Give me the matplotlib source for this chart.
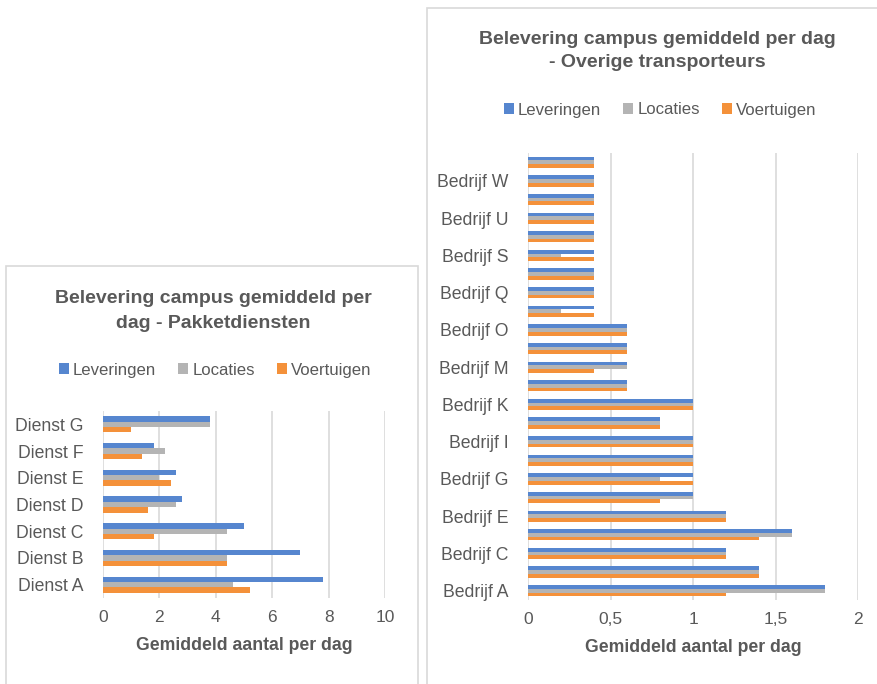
import numpy as np
import matplotlib.pyplot as plt
from matplotlib.patches import Rectangle

plt.rcParams['font.family'] = ['Liberation Sans', 'DejaVu Sans']

# left chart: Pakketdiensten
diensten = ['Dienst A', 'Dienst B', 'Dienst C', 'Dienst D', 'Dienst E', 'Dienst F', 'Dienst G']
d_leveringen = [7.8, 7.0, 5.0, 2.8, 2.6, 1.8, 3.8]
d_locaties = [4.6, 4.4, 4.4, 2.6, 2.0, 2.2, 3.8]
d_voertuigen = [5.2, 4.4, 1.8, 1.6, 2.4, 1.4, 1.0]

# right chart: Overige transporteurs (A..X)
bedrijven = ['Bedrijf ' + c for c in 'ABCDEFGHIJKLMNOPQRSTUVWX']
b_leveringen = [1.8, 1.4, 1.2, 1.6, 1.2, 1.0, 1.0, 1.0, 1.0, 0.8, 1.0, 0.6,
                0.6, 0.6, 0.6, 0.4, 0.4, 0.4, 0.4, 0.4, 0.4, 0.4, 0.4, 0.4]
b_locaties = [1.8, 1.4, 1.2, 1.6, 1.2, 1.0, 0.8, 1.0, 1.0, 0.8, 1.0, 0.6,
              0.6, 0.6, 0.6, 0.2, 0.4, 0.4, 0.2, 0.4, 0.4, 0.4, 0.4, 0.4]
b_voertuigen = [1.2, 1.4, 1.2, 1.4, 1.2, 0.8, 1.0, 1.0, 1.0, 0.8, 1.0, 0.6,
                0.4, 0.6, 0.6, 0.4, 0.4, 0.4, 0.4, 0.4, 0.4, 0.4, 0.4, 0.4]

series = ['Leveringen', 'Locaties', 'Voertuigen']
colors = ['#5686CF', '#B4B4B4', '#F4913A']
txt = '#595959'
grid = '#D9D9D9'

W, H = 877, 684
fig = plt.figure(figsize=(W / 100, H / 100), dpi=100)


def px(x0, y0, x1, y1):
    # pixel box (top-left origin) -> figure fraction rect
    return [x0 / W, 1 - y1 / H, (x1 - x0) / W, (y1 - y0) / H]


# panel borders
for (x0, y0, x1, y1) in [(6, 266, 418, 700), (427, 8, 890, 700)]:
    fig.patches.append(Rectangle((x0 / W, 1 - y1 / H), (x1 - x0) / W, (y1 - y0) / H,
                                 transform=fig.transFigure, fill=False,
                                 edgecolor=grid, linewidth=1.2))


def draw(ax, cats, vals, xmax, xstep, labels_every, fmt):
    n = len(cats)
    y = np.arange(n)
    h = 0.2
    for k, (v, c, name) in enumerate(zip(vals, colors, series)):
        ax.barh(y + (1 - k) * h, v, height=h, color=c, label=name, zorder=3)
    ax.set_ylim(-0.5, n - 0.5)
    ax.set_xlim(0, xmax)
    ticks = np.arange(0, xmax + xstep / 2, xstep)
    ax.set_xticks(ticks)
    ax.set_xticklabels([fmt(t) for t in ticks], fontsize=12.5, color=txt)
    ax.set_yticks(y[::labels_every])
    ax.set_yticklabels(cats[::labels_every], fontsize=12.7, color=txt)
    ax.tick_params(length=0, pad=9)
    ax.tick_params(axis='y', pad=14)
    ax.grid(axis='x', color=grid, linewidth=1.2, zorder=0)
    for s in ax.spines.values():
        s.set_visible(False)
    ax.set_xlabel('Gemiddeld aantal per dag', fontsize=12.7, fontweight='bold',
                  color=txt, labelpad=8)


axl = fig.add_axes(px(103, 411, 385, 598))
draw(axl, diensten, [d_leveringen, d_locaties, d_voertuigen], 10, 2, 1,
     lambda t: '%d' % t)
fig.text(213 / W, 1 - 311 / H, 'Belevering campus gemiddeld per\ndag - Pakketdiensten',
         ha='center', va='center', fontsize=14, fontweight='bold', color=txt,
         linespacing=1.55)
axl.legend(loc='center', bbox_to_anchor=(215 / W, 1 - 370 / H),
           bbox_transform=fig.transFigure, ncol=3, frameon=False, fontsize=12.1,
           handlelength=0.6, handleheight=0.6, handletextpad=0.25,
           columnspacing=1.3, labelcolor=txt)

axr = fig.add_axes(px(528, 153, 858, 600))
draw(axr, bedrijven, [b_leveringen, b_locaties, b_voertuigen], 2, 0.5, 2,
     lambda t: ('%g' % t).replace('.', ','))
fig.text(657 / W, 1 - 51 / H, 'Belevering campus gemiddeld per dag\n- Overige transporteurs',
         ha='center', va='center', fontsize=14, fontweight='bold', color=txt,
         linespacing=1.5)
axr.legend(loc='center', bbox_to_anchor=(660 / W, 1 - 110 / H),
           bbox_transform=fig.transFigure, ncol=3, frameon=False, fontsize=12.1,
           handlelength=0.6, handleheight=0.6, handletextpad=0.25,
           columnspacing=1.3, labelcolor=txt)

fig.savefig('out.png', dpi=100)
